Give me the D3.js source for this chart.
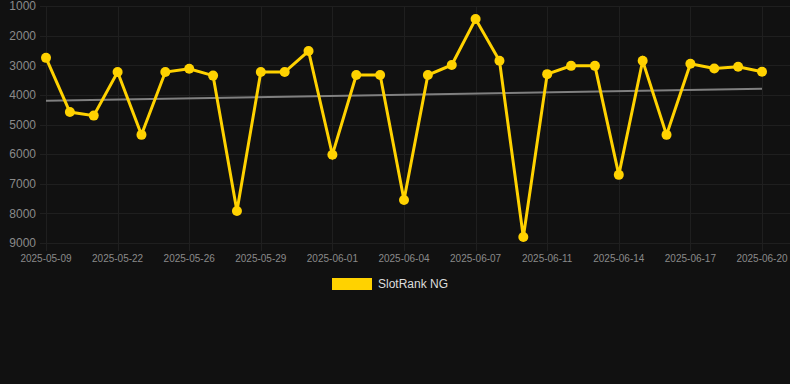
<!DOCTYPE html>
<html>
<head>
<meta charset="utf-8">
<script src="https://cdn.jsdelivr.net/npm/d3@7"></script>
<style>
  html, body { margin: 0; padding: 0; background: #111111; }
  svg { display: block; font-family: "Liberation Sans", Arial, sans-serif; }
</style>
</head>
<body>
<svg width="790" height="384"></svg>
<script>
// dates on the x axis (category axis, one per point)
var dates = ["2025-05-09", "2025-05-12", "2025-05-20", "2025-05-22", "2025-05-23", "2025-05-24",
    "2025-05-26", "2025-05-27", "2025-05-28", "2025-05-29", "2025-05-30", "2025-05-31",
    "2025-06-01", "2025-06-02", "2025-06-03", "2025-06-04", "2025-06-05", "2025-06-06",
    "2025-06-07", "2025-06-08", "2025-06-10", "2025-06-11", "2025-06-12", "2025-06-13",
    "2025-06-14", "2025-06-15", "2025-06-16", "2025-06-17", "2025-06-18", "2025-06-19",
    "2025-06-20"];
// rank values (lower is better, axis reversed)
var ranks = [2750, 4580, 4700, 3230, 5350, 3230, 3120, 3350, 7920, 3230, 3230, 2520,
    6020, 3330, 3330, 7550, 3330, 2990, 1440, 2850, 8800, 3300, 3020, 3020,
    6700, 2850, 5350, 2950, 3110, 3050, 3220];
// trend line, first and last value
var trend = [4200, 3790];
var yTicks = [1000, 2000, 3000, 4000, 5000, 6000, 7000, 8000, 9000];
var seriesName = "SlotRank NG";

var svg = d3.select("svg"),
    m = {left: 46, right: 762, top: 6, bottom: 243};

var x = d3.scalePoint().domain(dates).range([m.left, m.right]);
var y = d3.scaleLinear().domain([1000, 9000]).range([m.top, m.bottom]);

var grid = svg.append("g");
grid.selectAll(".hgrid")
    .data(yTicks)
    .enter().append("line")
    .attr("x1", 40).attr("x2", 790)
    .attr("y1", function (d) { return Math.round(y(d)) + 0.5; })
    .attr("y2", function (d) { return Math.round(y(d)) + 0.5; })
    .attr("stroke", "#1f1f1f");

var labelled = dates.filter(function (d, i) { return i % 3 === 0; });
grid.selectAll(".vgrid")
    .data(labelled)
    .enter().append("line")
    .attr("x1", function (d) { return Math.round(x(d)) + 0.5; })
    .attr("x2", function (d) { return Math.round(x(d)) + 0.5; })
    .attr("y1", m.top).attr("y2", m.bottom + 8)
    .attr("stroke", "#1f1f1f");

svg.selectAll(".ylab")
    .data(yTicks)
    .enter().append("text")
    .attr("x", 36)
    .attr("y", function (d) { return y(d); })
    .attr("dy", "0.36em")
    .attr("text-anchor", "end")
    .attr("fill", "#8a8a8a")
    .style("font-size", "12px")
    .text(function (d) { return d; });

svg.selectAll(".xlab")
    .data(labelled)
    .enter().append("text")
    .attr("x", function (d) { return x(d); })
    .attr("y", 262)
    .attr("text-anchor", "middle")
    .attr("fill", "#8a8a8a")
    .style("font-size", "10px")
    .text(function (d) { return d; });

// trend
svg.append("line")
    .attr("x1", x(dates[0])).attr("y1", y(trend[0]))
    .attr("x2", x(dates[dates.length - 1])).attr("y2", y(trend[1]))
    .attr("stroke", "#808080")
    .attr("stroke-width", 2);

var line = d3.line()
    .x(function (d, i) { return x(dates[i]); })
    .y(function (d) { return y(d); });

svg.append("path")
    .datum(ranks)
    .attr("d", line)
    .attr("fill", "none")
    .attr("stroke", "#FFD200")
    .attr("stroke-width", 3)
    .attr("stroke-linejoin", "miter");

svg.selectAll(".dot")
    .data(ranks)
    .enter().append("circle")
    .attr("cx", function (d, i) { return x(dates[i]); })
    .attr("cy", function (d) { return y(d); })
    .attr("r", 5)
    .attr("fill", "#FFD200");

// legend
var legend = svg.append("g");
legend.append("rect")
    .attr("x", 332).attr("y", 278)
    .attr("width", 40).attr("height", 12)
    .attr("fill", "#FFD200");
legend.append("text")
    .attr("x", 378).attr("y", 284)
    .attr("dy", "0.36em")
    .attr("fill", "#dddddd")
    .style("font-size", "12px")
    .text(seriesName);
</script>
</body>
</html>
